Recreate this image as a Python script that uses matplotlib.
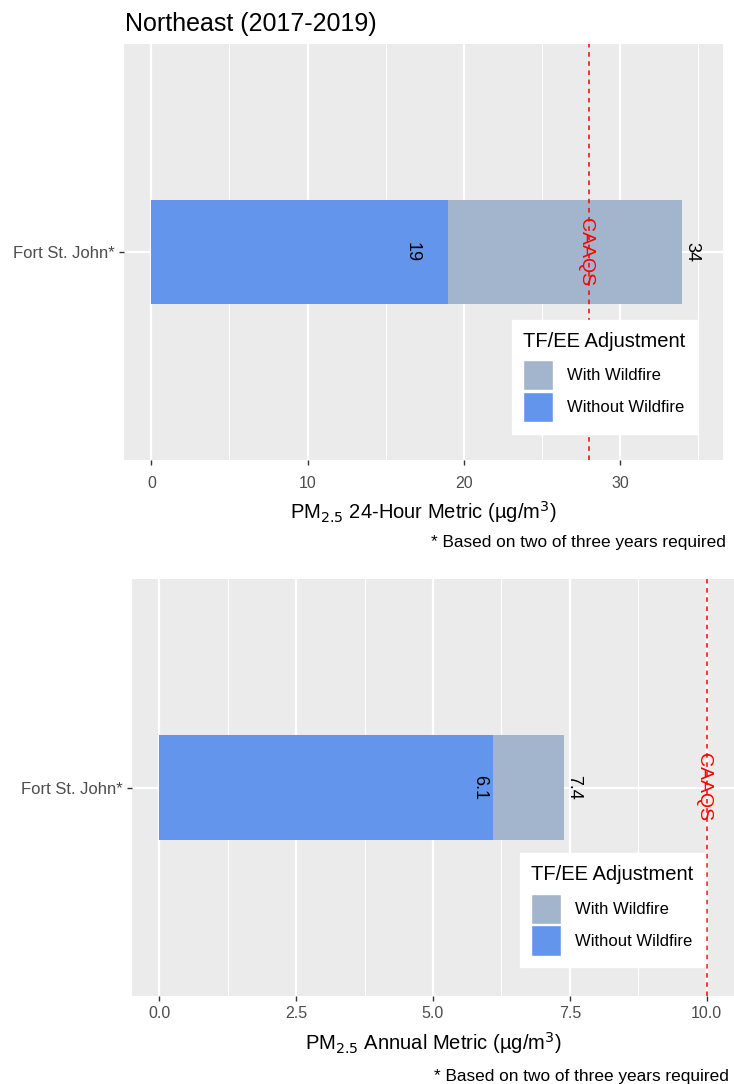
import matplotlib
matplotlib.use("Agg")
import matplotlib.pyplot as plt
from matplotlib.patches import Patch
from matplotlib.ticker import MultipleLocator

plt.rcParams['font.family'] = ['Liberation Sans', 'DejaVu Sans']

# data
sites = ["Fort St. John*"]
daily_with = [34]
daily_without = [19]
annual_with = [7.4]
annual_without = [6.1]
caaqs_daily = 28
caaqs_annual = 10
daily_ticks = [0, 10, 20, 30]
annual_ticks = [0.0, 2.5, 5.0, 7.5, 10.0]

grey_col = "#A2B5CD"
blue_col = "#6495ED"
W, H = 734, 1084

fig = plt.figure(figsize=(W / 100, H / 100), dpi=100)


def px_ax(left, top, right, bottom):
    return fig.add_axes([left / W, 1 - bottom / H, (right - left) / W, (bottom - top) / H])


def panel(ax, with_vals, without_vals, caaqs, ticks, minor, xlim, fmt,
          offsets, xlabel, leg_anchor, tick_pad, label_pad):
    ax.set_facecolor("#EBEBEB")
    for s in ax.spines.values():
        s.set_visible(False)
    ypos = list(range(len(sites)))
    ax.barh(ypos, with_vals, height=0.3, color=grey_col, zorder=3)
    ax.barh(ypos, without_vals, height=0.3, color=blue_col, zorder=4)
    ax.set_xlim(*xlim)
    ax.set_ylim(-0.6, 0.6)
    ax.set_yticks(ypos)
    ax.set_yticklabels(sites)
    ax.set_xticks(ticks)
    ax.set_xticklabels([fmt.format(t) for t in ticks])
    ax.xaxis.set_minor_locator(MultipleLocator(minor))
    ax.grid(which="major", color="white", lw=1.6, zorder=1)
    ax.grid(which="minor", axis="x", color="white", lw=0.8, zorder=1)
    ax.tick_params(axis="both", which="major", colors="#333333", length=3.5,
                   width=1, labelsize=11.5, labelcolor="#4D4D4D", pad=3)
    ax.tick_params(axis="y", labelsize=12)
    ax.tick_params(axis="x", pad=tick_pad)
    ax.tick_params(which="minor", length=0)
    ax.set_axisbelow(True)

    # value labels
    for y, wv, nv in zip(ypos, with_vals, without_vals):
        ax.annotate(fmt.format(nv), (nv, y), xytext=(offsets[0], 0),
                    textcoords="offset points", rotation=270, ha="right",
                    va="center", fontsize=13, color="black", zorder=6)
        ax.annotate(fmt.format(wv), (wv, y), xytext=(offsets[1], 0),
                    textcoords="offset points", rotation=270, ha="left",
                    va="center", fontsize=13, color="black", zorder=6)

    ax.axvline(caaqs, color="red", ls=(0, (3, 3)), lw=1.1, zorder=5)
    ax.annotate("CAAQS", (caaqs, ypos[0]), xytext=(-2, 0),
                textcoords="offset points", rotation=270, ha="center",
                va="center", color="red", fontsize=14, zorder=6)

    ax.set_xlabel(xlabel, fontsize=14.5, color="black", labelpad=label_pad)

    handles = [Patch(facecolor=grey_col, edgecolor="white", label="With Wildfire"),
               Patch(facecolor=blue_col, edgecolor="white", label="Without Wildfire")]
    leg = ax.legend(handles=handles, title="TF/EE Adjustment", loc="lower right",
                    bbox_to_anchor=leg_anchor, frameon=True, fancybox=False,
                    framealpha=1, fontsize=12, title_fontsize=14.5,
                    handlelength=1.8, handleheight=2.4, labelspacing=0.1,
                    handletextpad=0.8, borderpad=0.7, borderaxespad=0)
    leg.get_frame().set_facecolor("white")
    leg.get_frame().set_edgecolor("white")
    leg._legend_box.align = "left"
    leg._legend_box.sep = 7
    leg.set_zorder(7)


ax1 = px_ax(124, 44, 723, 460)
panel(ax1, daily_with, daily_without, caaqs_daily, daily_ticks, 5,
      (-1.75, 36.6), "{:.0f}", (-20, 0.5),
      r"PM$_{2.5}$ 24-Hour Metric (µg/m$^3$)", (0.957, 0.063), 8, 6)

ax2 = px_ax(132, 579, 734, 996)
panel(ax2, annual_with, annual_without, caaqs_annual, annual_ticks, 1.25,
      (-0.5, 10.5), "{:.1f}", (-4, 0.5),
      r"PM$_{2.5}$ Annual Metric (µg/m$^3$)", (0.952, 0.069), 4, 6)

fig.text(125 / W, 1 - 31 / H, "Northeast (2017-2019)", fontsize=18,
         ha="left", va="baseline")
fig.text(726 / W, 1 - 543 / H, "* Based on two of three years required",
         fontsize=12.4, ha="right", va="center")
fig.text(729 / W, 1 - 1077 / H, "* Based on two of three years required",
         fontsize=12.4, ha="right", va="center")

fig.savefig("out.png", dpi=100)
